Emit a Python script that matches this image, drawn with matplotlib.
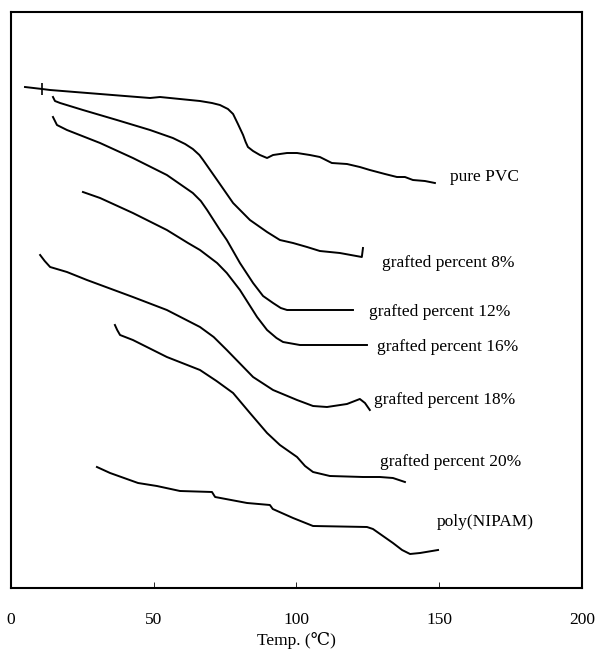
import matplotlib
matplotlib.use("Agg")
import matplotlib.pyplot as plt

plt.rcParams['font.family'] = ['Liberation Serif', 'DejaVu Serif']

# DSC traces, temperature (C) vs heat flow (arbitrary units, offset)
pvc_t = [4.9, 10.9, 13.7, 22.4, 31.2, 39.9, 48.7, 52.2, 59.2, 66.2, 70.4, 73.2, 76.0, 77.8,
         79.5, 81.3, 82.2, 83.0, 84.8, 87.2, 89.7, 91.8, 94.2, 96.7, 100.2, 104.7, 108.2, 112.4,
         117.7, 122.2, 125.7, 131.0, 135.2, 138.0, 140.8, 145.0, 148.5]
pvc_y = [513, 511, 510, 508, 506, 504, 502, 503, 501, 499, 497, 495, 491, 486,
         476, 465, 458, 453, 449, 445, 442, 445, 446, 447, 447, 445, 443, 437,
         436, 433, 430, 426, 423, 423, 420, 419, 417]

g8_t = [14.7, 15.4, 17.2, 25.2, 37.1, 48.7, 56.7, 61.0, 63.7, 66.0, 67.3, 72.2, 77.8, 83.7,
        89.7, 94.2, 98.8, 103.7, 108.2, 115.2, 122.9, 123.3]
g8_y = [503, 499, 497, 490, 480, 470, 462, 456, 451, 445, 440, 420, 397, 380,
        368, 360, 357, 353, 349, 347, 343, 352]

g12_t = [14.7, 15.4, 16.1, 19.6, 31.2, 42.7, 54.6, 63.7, 66.5, 68.7, 73.2, 75.6, 80.2, 84.8,
         88.3, 91.8, 94.5, 96.7, 101.2, 119.8]
g12_y = [483, 479, 475, 470, 457, 442, 425, 407, 399, 390, 370, 360, 337, 317,
         304, 297, 292, 290, 290, 290]

g16_t = [25.2, 31.2, 42.7, 54.6, 62.0, 66.2, 72.2, 75.6, 80.2, 86.2, 89.7, 93.0, 95.3,
         101.2, 124.7]
g16_y = [408, 402, 387, 370, 357, 350, 337, 327, 310, 283, 270, 262, 258,
         255, 255]

g18_t = [10.2, 11.8, 13.7, 19.6, 26.6, 42.7, 54.6, 66.2, 71.0, 75.6, 84.8, 91.8, 100.2,
         105.8, 110.7, 117.7, 122.2, 124.0, 125.7]
g18_y = [345, 339, 333, 328, 320, 303, 290, 273, 263, 250, 223, 210, 200,
         194, 193, 196, 201, 197, 190]

g20_t = [36.4, 37.2, 38.2, 42.7, 54.6, 66.2, 72.0, 77.8, 83.7, 89.7, 94.2, 100.2, 103.0,
         105.8, 111.7, 123.3, 129.2, 133.8, 138.0]
g20_y = [275, 270, 265, 260, 243, 230, 219, 207, 187, 167, 155, 143, 134,
         128, 124, 123, 123, 122, 118]

pn_t = [30.1, 34.7, 44.5, 51.1, 59.2, 70.4, 71.5, 82.7, 90.7, 91.7, 98.8, 105.8, 124.7,
        126.8, 133.8, 137.0, 139.8, 143.3, 149.6]
pn_y = [133, 127, 117, 114, 109, 108, 103, 97, 95, 91, 82, 74, 73,
        71, 57, 50, 46, 47, 50]

labels = ['pure PVC', 'grafted percent 8%', 'grafted percent 12%', 'grafted percent 16%',
          'grafted percent 18%', 'grafted percent 20%', 'poly(NIPAM)']
label_x = [153.8, 130.0, 125.4, 128.2, 127.1, 129.2, 149.2]
label_y = [423, 337, 288, 253, 200, 138, 78]

fig = plt.figure(figsize=(5.95, 6.49), dpi=100)
ax = fig.add_axes([0.0185, 0.094, 0.9595, 0.8875])

curves = [(pvc_t, pvc_y), (g8_t, g8_y), (g12_t, g12_y), (g16_t, g16_y),
          (g18_t, g18_y), (g20_t, g20_y), (pn_t, pn_y)]
for t, y in curves:
    ax.plot(t, y, color='black', lw=1.4, solid_joinstyle='round')

# small marker tick on the pure PVC trace
ax.plot([10.9], [511], marker='|', color='black', ms=9, mew=1.2)

for lab, lx, ly in zip(labels, label_x, label_y):
    ax.text(lx, ly, lab, fontsize=12.5, va='center', ha='left')

ax.set_xlim(0, 200)
ax.set_ylim(12, 588)
ax.set_xticks([0, 50, 100, 150, 200])
ax.set_yticks([])
ax.tick_params(axis='x', direction='in', length=4, width=0.6, pad=17.5, labelsize=12.5)
ax.set_xlabel('Temp. (℃)', fontsize=12.5, labelpad=3)
for s in ax.spines.values():
    s.set_linewidth(1.5)

fig.savefig('out.png', dpi=100)
